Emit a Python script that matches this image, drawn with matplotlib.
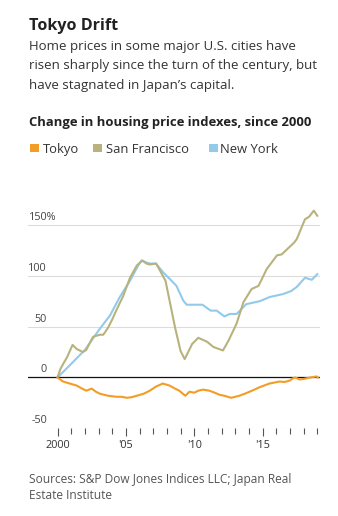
import matplotlib
matplotlib.use("Agg")
import matplotlib.pyplot as plt
import matplotlib.transforms as mtransforms
from matplotlib.patches import Rectangle

plt.rcParams["font.family"] = ["Open Sans", "DejaVu Sans"]

# ---- data: change in housing price indexes since 2000 (%) ----
tokyo_years = [2000.0, 2000.4, 2000.9, 2001.4, 2001.8, 2002.1, 2002.5, 2002.8, 2003.1, 2003.7,
               2004.3, 2004.7, 2005.05, 2005.4, 2005.8, 2006.3, 2006.75, 2007.2, 2007.7, 2008.2,
               2008.6, 2008.9, 2009.35, 2009.65, 2010.0, 2010.3, 2010.65, 2011.1, 2011.5, 2011.85,
               2012.2, 2012.7, 2013.3, 2013.7, 2014.05, 2014.4, 2014.8, 2015.5, 2016.25, 2016.6,
               2017.0, 2017.2, 2017.4, 2017.7, 2018.0, 2018.5, 2018.95, 2019.05]
tokyo_vals = [0, -4, -6, -8, -11, -13, -11, -14, -16, -18,
              -19, -19, -20, -19.5, -18, -16, -13, -9, -6, -8,
              -11, -13, -18, -14, -15, -13, -12, -13, -15, -17,
              -18, -20, -18, -16, -14, -12, -9.5, -6, -4, -4.5,
              -3, -1, 0, -2, -1.5, 0, 1, 0]

sf_years = [2000.0, 2000.2, 2000.4, 2000.7, 2001.1, 2001.4, 2001.85, 2002.1, 2002.6, 2003.1,
            2003.35, 2003.7, 2004.0, 2004.3, 2004.8, 2005.3, 2005.8, 2006.2, 2006.5, 2006.75,
            2007.2, 2007.5, 2007.9, 2008.25, 2008.6, 2009.0, 2009.3, 2009.85, 2010.3, 2010.95,
            2011.4, 2012.1, 2012.5, 2013.1, 2013.6, 2014.2, 2014.7, 2015.3, 2016.05, 2016.4,
            2017.3, 2017.5, 2018.1, 2018.4, 2018.75, 2019.0]
sf_vals = [0, 8, 13, 20, 32, 28, 25, 27, 40, 42,
           42, 49, 57, 66, 80, 98, 110, 115, 112, 111,
           112, 105, 95, 72, 49, 26, 18, 33, 39, 35,
           30, 26.5, 36, 53, 74, 87, 90, 106.5, 120, 121,
           132.5, 136, 155.5, 158, 164, 159]

ny_years = [2000.0, 2000.9, 2002.0, 2003.1, 2003.84, 2004.55, 2005.3, 2005.9, 2006.15, 2006.5,
            2006.75, 2007.2, 2007.75, 2008.2, 2008.7, 2009.2, 2009.45, 2010.0, 2010.6, 2011.2,
            2011.65, 2012.2, 2012.6, 2013.1, 2013.8, 2014.8, 2015.5, 2016.5, 2017.1, 2017.5,
            2018.1, 2018.6, 2019.0]
ny_vals = [0, 12, 27, 48, 61, 79, 95, 110, 115, 113,
           112, 112, 103, 97, 90, 75.5, 71.5, 71.5, 71.5, 65.7,
           65.7, 60, 62.4, 62.4, 72, 75, 79, 82, 85, 89,
           98, 96, 101.5]

series_names = ["Tokyo", "San Francisco", "New York"]
series_colors = ["#f39c26", "#b8b37d", "#92caec"]

y_ticks = [-50, 0, 50, 100, 150]
y_tick_labels = ["-50", "0", "50", "100", "150%"]
x_ticks = [2000, 2005, 2010, 2015]
x_tick_labels = ["2000", "'05", "'10", "'15"]

title = "Tokyo Drift"
subtitle = ["Home prices in some major U.S. cities have",
            "risen sharply since the turn of the century, but",
            "have stagnated in Japan\u2019s capital."]
chart_label = "Change in housing price indexes, since 2000"
source = ["Sources: S&P Dow Jones Indices LLC; Japan Real",
          "Estate Institute"]

W, H = 338, 516
fig = plt.figure(figsize=(W / 100, H / 100), dpi=100)
fig.patch.set_facecolor("white")


def fx(px):
    return px / W


def fy(py):
    return 1 - py / H


# ---- header text ----
fig.text(fx(29), fy(30.5), title, fontsize=11.6, fontweight="bold", color="#222222", va="baseline")
for i, line in enumerate(subtitle):
    fig.text(fx(29), fy(50 + 19.5 * i), line, fontsize=9.5, color="#333333", va="baseline")
fig.text(fx(29), fy(126), chart_label, fontsize=9.4, fontweight="bold", color="#222222", va="baseline")

# legend: square swatches with labels
legend_x = [30, 93, 209]
legend_gap = [13, 13, 11.5]
for name, col, x0, gap in zip(series_names, series_colors, legend_x, legend_gap):
    fig.patches.append(Rectangle((fx(x0), fy(152.3)), 8.5 / W, 8 / H,
                                 transform=fig.transFigure, facecolor=col, edgecolor="none"))
    fig.text(fx(x0 + gap), fy(153), name, fontsize=9.4, color="#333333", va="baseline")

# ---- plot area ----
ax_left, ax_right = 28, 320
ax_top, ax_bottom = 190, 428.3
ax = fig.add_axes([fx(ax_left), fy(ax_bottom), (ax_right - ax_left) / W, (ax_bottom - ax_top) / H])
ax.set_xlim(1997.84, 2019.2)
ax.set_ylim(-50, 184.3)
for s in ax.spines.values():
    s.set_visible(False)
ax.set_facecolor("none")

for v in y_ticks:
    if v == 0:
        ax.axhline(v, color="#111111", lw=0.9, zorder=4)
    else:
        ax.axhline(v, color="#dcdcdc", lw=0.8, zorder=1)

ax.plot(ny_years, ny_vals, color=series_colors[2], lw=1.5, zorder=2, solid_joinstyle="round")
ax.plot(sf_years, sf_vals, color=series_colors[1], lw=1.5, zorder=3, solid_joinstyle="round")
ax.plot(tokyo_years, tokyo_vals, color=series_colors[0], lw=1.5, zorder=5, solid_joinstyle="round")

# y labels sit above their gridlines; numbers right-aligned, the % label starts at the left edge
ax.set_yticks([])
ytr = ax.get_yaxis_transform() + mtransforms.ScaledTranslation(0, 2 / 100, fig.dpi_scale_trans)
num_right = (47 - ax_left) / (ax_right - ax_left)
for v, lab in zip(y_ticks, y_tick_labels):
    if lab.endswith("%"):
        ax.text(0.003, v, lab, transform=ytr, ha="left", va="bottom",
                fontsize=7.8, color="#444444")
    else:
        ax.text(num_right, v, lab, transform=ytr, ha="right", va="bottom",
                fontsize=7.8, color="#444444")

# x ticks: minor yearly, labeled every five years
ax.set_xticks(x_ticks)
ax.set_xticklabels(x_tick_labels)
ax.set_xticks(list(range(2000, 2020)), minor=True)
ax.tick_params(axis="x", which="major", length=6, width=0.8, color="#555555",
               labelsize=7.8, labelcolor="#333333", pad=2.5)
ax.tick_params(axis="x", which="minor", length=4, width=0.8, color="#555555")

# ---- source ----
for i, line in enumerate(source):
    fig.text(fx(29), fy(483 + 16 * i), line, fontsize=8.6, color="#555555", va="baseline")

fig.savefig("out.png", dpi=100, facecolor="white")
